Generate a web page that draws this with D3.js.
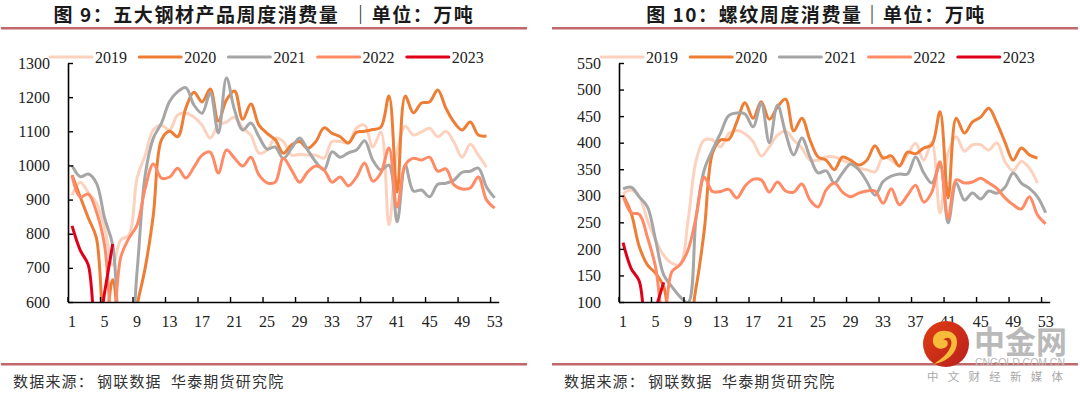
<!DOCTYPE html>
<html>
<head>
<meta charset="utf-8">
<script src="https://cdn.jsdelivr.net/npm/d3@7"></script>
<style>
  html, body { margin: 0; padding: 0; background: #fff; }
  svg { display: block; }
</style>
</head>
<body>
<div id="chart"></div>
<script>
// x axis: weeks 1-53, every 4th one labelled
const weeks = d3.range(1, 54);
const weekLabels = [1, 5, 9, 13, 17, 21, 25, 29, 33, 37, 41, 45, 49, 53];
const years = ['2019', '2020', '2021', '2022', '2023'];
const yearColors = ['#fcd2bf', '#ee7d35', '#a6a6a6', '#ff8b66', '#e00019'];

// 五大钢材
const steel2019 = [913, 951, 920, 890, 817, 708, 782, 796, 963, 1030, 1104, 1118, 1104, 1148, 1153, 1142, 1118, 1080, 1118, 1127, 1142, 1109, 1089, 1036, 1045, 1080, 1070, 1030, 1033, 1030, 1030, 1021, 1070, 1070, 1066, 1109, 1118, 1054, 1098, 826, 1040, 1115, 1089, 1098, 1109, 1084, 1100, 1068, 1024, 1062, 1030, 995];
const steel2020 = [972, 908, 846, 787, 520, 665, 500, 450, 590, 700, 855, 1075, 1100, 1084, 1168, 1214, 1186, 1224, 1130, 1192, 1218, 1135, 1180, 1118, 1094, 1075, 1036, 1060, 1070, 1050, 1070, 1110, 1094, 1084, 1066, 1097, 1100, 1105, 1112, 1203, 922, 1203, 1154, 1183, 1186, 1221, 1168, 1127, 1104, 1127, 1089, 1086];
const steel2021 = [1000, 967, 975, 948, 846, 767, 500, 450, 690, 972, 1080, 1124, 1187, 1216, 1228, 1177, 1153, 1212, 1095, 1256, 1162, 1104, 1124, 1084, 1048, 1054, 1020, 1050, 1080, 1045, 1010, 987, 1040, 1024, 1037, 1045, 1072, 1016, 987, 1001, 835, 1001, 925, 928, 908, 945, 948, 957, 980, 983, 992, 937, 905];
const steel2022 = [970, 908, 916, 864, 767, 520, 732, 787, 825, 933, 1004, 963, 966, 992, 963, 995, 1030, 1039, 978, 1045, 1021, 998, 1024, 972, 949, 951, 1021, 987, 951, 981, 998, 987, 951, 966, 940, 966, 1007, 954, 978, 1051, 878, 1001, 1021, 1016, 1024, 983, 990, 943, 931, 934, 966, 899, 875];
const steel2023 = [823, 752, 708, 480, 627, 770];
const steelTicks = [600, 700, 800, 900, 1000, 1100, 1200, 1300];

// 螺纹
const rebar2019 = [304, 311, 298, 254, 217, 188, 173, 170, 254, 367, 405, 405, 392, 417, 423, 417, 402, 375, 392, 414, 422, 405, 390, 367, 367, 373, 373, 367, 360, 352, 349, 345, 373, 367, 356, 377, 399, 367, 401, 267, 380, 411, 384, 396, 396, 386, 400, 364, 347, 365, 352, 324];
const rebar2020 = [301, 267, 204, 170, 154, 129, 60, 60, 60, 129, 236, 380, 405, 406, 439, 475, 446, 477, 444, 467, 482, 422, 446, 405, 373, 367, 349, 373, 367, 358, 367, 394, 371, 375, 356, 382, 379, 390, 396, 458, 296, 446, 418, 439, 448, 465, 437, 401, 367, 390, 377, 371];
const rebar2021 = [313, 316, 298, 279, 217, 151, 129, 110, 99, 261, 349, 386, 418, 451, 456, 454, 430, 474, 400, 471, 418, 377, 409, 373, 343, 347, 324, 343, 360, 349, 327, 301, 327, 337, 341, 341, 373, 343, 324, 358, 249, 324, 292, 305, 294, 309, 305, 316, 343, 324, 314, 298, 268];
const rebar2022 = [301, 268, 265, 222, 166, 60, 157, 170, 198, 261, 335, 308, 308, 312, 296, 318, 331, 330, 307, 326, 309, 307, 322, 292, 279, 311, 324, 307, 298, 305, 309, 309, 286, 313, 283, 301, 320, 288, 307, 364, 258, 330, 324, 326, 333, 324, 314, 296, 283, 275, 298, 264, 247];
const rebar2023 = [212, 163, 139, 20, 85, 137];
const rebarTicks = [100, 150, 200, 250, 300, 350, 400, 450, 500, 550];

const svg = d3.select('#chart').append('svg').attr('width', 1080).attr('height', 394);

const SERIF = '"Liberation Serif", serif';
const CJK = '"Noto Sans CJK SC", sans-serif';

function drawPanel(opt) {
  const g = svg.append('g').attr('transform', `translate(${opt.dx},0)`);
  const top = 63, bottom = 302, left = 68, right = 498.7;

  const x = d3.scaleBand().domain(weeks).range([left, right]);
  const y = d3.scaleLinear().domain(opt.domain).range([bottom, top]);

  // 标题
  g.append('text')
    .attr('x', opt.titleX).attr('y', 21.5)
    .attr('font-family', CJK).attr('font-size', 19).attr('font-weight', 700)
    .attr('letter-spacing', 1.55)
    .attr('fill', '#1a1a1a').attr('text-anchor', 'middle')
    .attr('xml:space', 'preserve')
    .text(opt.title);

  // 上下两条红线
  g.append('rect').attr('x', 1).attr('y', 27).attr('width', 526).attr('height', 2.5).attr('fill', '#c0686a');
  g.append('rect').attr('x', 1).attr('y', 363).attr('width', 526).attr('height', 2.5).attr('fill', '#c0686a');

  // 折线，超出坐标轴的部分裁掉
  g.append('clipPath').attr('id', 'clip' + opt.dx)
    .append('rect').attr('x', left).attr('y', top).attr('width', right - left).attr('height', bottom - top);

  const line = d3.line()
    .x((d, i) => x(weeks[i]) + x.bandwidth() / 2)
    .y(d => y(d))
    .curve(d3.curveCatmullRom);

  const lines = g.append('g').attr('clip-path', `url(#clip${opt.dx})`);
  opt.series.forEach((s, i) => {
    lines.append('path')
      .attr('d', line(s))
      .attr('fill', 'none')
      .attr('stroke', yearColors[i])
      .attr('stroke-width', 3)
      .attr('stroke-linejoin', 'round');
  });

  // y 轴
  const yAxis = g.append('g').attr('transform', `translate(${left},0)`)
    .call(d3.axisLeft(y).tickValues(opt.ticks).tickFormat(d3.format('d')).tickSizeInner(-5).tickSizeOuter(0).tickPadding(18));
  yAxis.select('.domain').attr('stroke', '#000').attr('stroke-width', 1.6);
  yAxis.selectAll('line').attr('stroke', '#000').attr('stroke-width', 1.4);
  yAxis.selectAll('text').attr('font-family', SERIF).attr('font-size', 16).attr('fill', '#222');

  // x 轴，标签在分类中间，刻度线在分类边上
  const xAxis = g.append('g').attr('transform', `translate(0,${bottom})`)
    .call(d3.axisBottom(x).tickValues(weekLabels).tickSize(0).tickPadding(14));
  xAxis.select('.domain').attr('stroke', '#000').attr('stroke-width', 1.6);
  xAxis.selectAll('text').attr('font-family', SERIF).attr('font-size', 16).attr('fill', '#222');
  g.append('g').selectAll('line').data(weekLabels).enter().append('line')
    .attr('x1', d => x(d)).attr('x2', d => x(d))
    .attr('y1', bottom).attr('y2', bottom - 5)
    .attr('stroke', '#000').attr('stroke-width', 1.4);

  // 图例
  const legend = g.append('g').selectAll('g').data(years).enter().append('g')
    .attr('transform', (d, i) => `translate(${50 + i * 89.2},57)`);
  legend.append('line').attr('x1', 0).attr('x2', 42)
    .attr('stroke', (d, i) => yearColors[i]).attr('stroke-width', 3).attr('stroke-linecap', 'round');
  legend.append('text').attr('x', 45).attr('y', 5.5)
    .attr('font-family', SERIF).attr('font-size', 16).attr('fill', '#222')
    .text(d => d);

  // 数据来源
  const source = g.append('text').attr('x', 13).attr('y', 387)
    .attr('font-family', CJK).attr('font-size', 15).attr('letter-spacing', 1.2).attr('fill', '#333')
    .attr('xml:space', 'preserve');
  source.append('tspan').text('数据来源：');
  source.append('tspan').attr('dx', 3).text('钢联数据  华泰期货研究院');
}

drawPanel({
  dx: 0,
  titleX: 264,
  title: '图 9：五大钢材产品周度消费量  ｜单位：万吨',
  domain: [600, 1300],
  ticks: steelTicks,
  series: [steel2019, steel2020, steel2021, steel2022, steel2023]
});

drawPanel({
  dx: 551,
  titleX: 265,
  title: '图 10：螺纹周度消费量｜单位：万吨',
  domain: [100, 550],
  ticks: rebarTicks,
  series: [rebar2019, rebar2020, rebar2021, rebar2022, rebar2023]
});

// 水印
const wm = svg.append('g');
const grad = svg.append('defs').append('linearGradient').attr('id', 'wmRed')
  .attr('x1', 0).attr('y1', 0).attr('x2', 1).attr('y2', 1);
grad.append('stop').attr('offset', 0).attr('stop-color', '#e03c12');
grad.append('stop').attr('offset', 1).attr('stop-color', '#b8201e');
wm.append('circle').attr('cx', 946).attr('cy', 344).attr('r', 23).attr('fill', 'url(#wmRed)');
wm.append('path')
  .attr('d', 'M934 364 C946 362 957 354 957 342 C957 335 952 331 946 331 C938 330 932 335 933 342 C934 349 943 351 947 346 C949 343 947 339 943 340 C948 335 953 339 951 346 C948 354 941 359 934 364 Z')
  .attr('fill', '#f6bb38');
wm.append('text').attr('x', 974).attr('y', 353)
  .attr('font-family', '"Noto Sans CJK SC", sans-serif').attr('font-size', 31).attr('font-weight', 700)
  .attr('fill', '#b9b9b9').text('中金网');
wm.append('text').attr('x', 975).attr('y', 366)
  .attr('font-family', '"Liberation Sans", sans-serif').attr('font-size', 10.5)
  .attr('fill', '#b9b9b9').attr('textLength', 90).text('CNGOLD.COM.CN');
wm.append('text').attr('x', 927).attr('y', 381)
  .attr('font-family', '"Noto Sans CJK SC", sans-serif').attr('font-size', 11.5)
  .attr('fill', '#a8a8a8').attr('textLength', 136).text('中文财经新媒体');
</script>
</body>
</html>
